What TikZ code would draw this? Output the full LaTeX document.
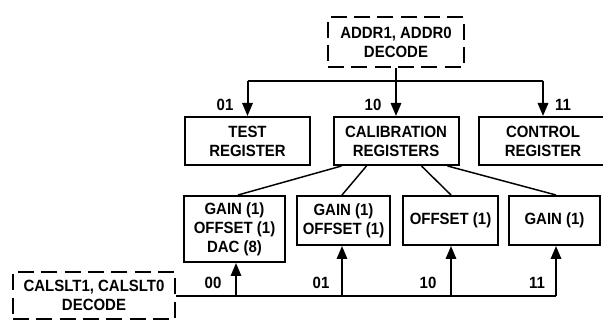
\documentclass[tikz,border=0pt]{standalone}
\usepackage{fontspec}
\setmainfont{Liberation Sans}[FakeStretch=0.92]
\usetikzlibrary{arrows.meta,calc}
\begin{document}
\begin{tikzpicture}[x=0.75pt,y=-0.75pt,
  txt/.style={font=\bfseries\fontsize{12.2}{14.25}\selectfont},
  box/.style={draw, line width=1.5pt, inner sep=0pt, align=center, txt},
  dbox/.style={box, line width=1.6pt, dash pattern=on 12pt off 5.5pt},
  lbl/.style={txt, inner sep=0pt},
  arr/.style={line width=1.5pt, -{Triangle[length=9.75pt,width=7.8pt]}},
  wire/.style={line width=1.5pt},
  thinw/.style={line width=1.1pt}]
\useasboundingbox (0,0) rectangle (603,320);

\node[dbox, minimum width=102pt, minimum height=37.5pt] (addr) at (396,42) {ADDR1, ADDR0\\DECODE};
\node[box, minimum width=93.75pt, minimum height=36pt] (test) at (247.5,141) {TEST\\REGISTER};
\node[box, minimum width=93.75pt, minimum height=36pt] (cal) at (396,141) {CALIBRATION\\REGISTERS};
\node[box, minimum width=96pt, minimum height=36pt] (ctrl) at (543,141) {CONTROL\\REGISTER};

\node[box, minimum width=75.75pt, minimum height=49.5pt] (r1) at (234.5,229) {GAIN (1)\\OFFSET (1)\\DAC (8)};
\node[box, minimum width=69.75pt, minimum height=36.75pt] (r2) at (343.5,220.5) {GAIN (1)\\OFFSET (1)};
\node[box, minimum width=71.25pt, minimum height=36.75pt] (r3) at (450.5,220.5) {OFFSET (1)};
\node[box, minimum width=68.25pt, minimum height=36.75pt] (r4) at (554.5,220.5) {GAIN (1)};

\node[dbox, minimum width=121.5pt, minimum height=35.25pt] (cs) at (94,295.5) {CALSLT1, CALSLT0\\DECODE};

% top bus
\coordinate (ta) at (396,81);
\draw[wire] (addr.south) -- (ta);
\draw[wire] (ta -| test.north) -- (ta -| ctrl.north);
\draw[arr] (ta -| test.north) -- (test.north);
\draw[arr] (ta) -- (cal.north);
\draw[arr] (ta -| ctrl.north) -- (ctrl.north);

\node[lbl] (t01) at (225,105) {01};
\node[lbl] (t10) at (373,105) {10};
\node[lbl] (t11) at (563,105) {11};

% fan-out lines
\draw[thinw] ($(cal.south west)+(9,0)$) -- ($(r1.north)+(3.5,0)$);
\draw[thinw] ($(cal.south west)+(34,0)$) -- ($(r2.north)+(-1.5,0)$);
\draw[thinw] ($(cal.south west)+(89,0)$) -- ($(r3.north)+(0.5,0)$);
\draw[thinw] ($(cal.south west)+(115,0)$) -- ($(r4.north)+(1.5,0)$);

% bottom bus
\coordinate (b1) at ($(r1.south)+(1.5,0)$);
\coordinate (b2) at ($(r2.south)+(-1.5,0)$);
\coordinate (b3) at ($(r3.south)+(0.5,0)$);
\coordinate (b4) at ($(r4.south)+(1.5,0)$);
\draw[wire] (cs.east) -- (cs.east -| b4);
\draw[arr] (cs.east -| b1) -- (b1);
\draw[arr] (cs.east -| b2) -- (b2);
\draw[arr] (cs.east -| b3) -- (b3);
\draw[arr] (cs.east -| b4) -- (b4);

\node[lbl] (b00) at (213,283) {00};
\node[lbl] (b01) at (321,283) {01};
\node[lbl] (b10) at (428,283) {10};
\node[lbl] (b11) at (537,283) {11};
\end{tikzpicture}
\end{document}
